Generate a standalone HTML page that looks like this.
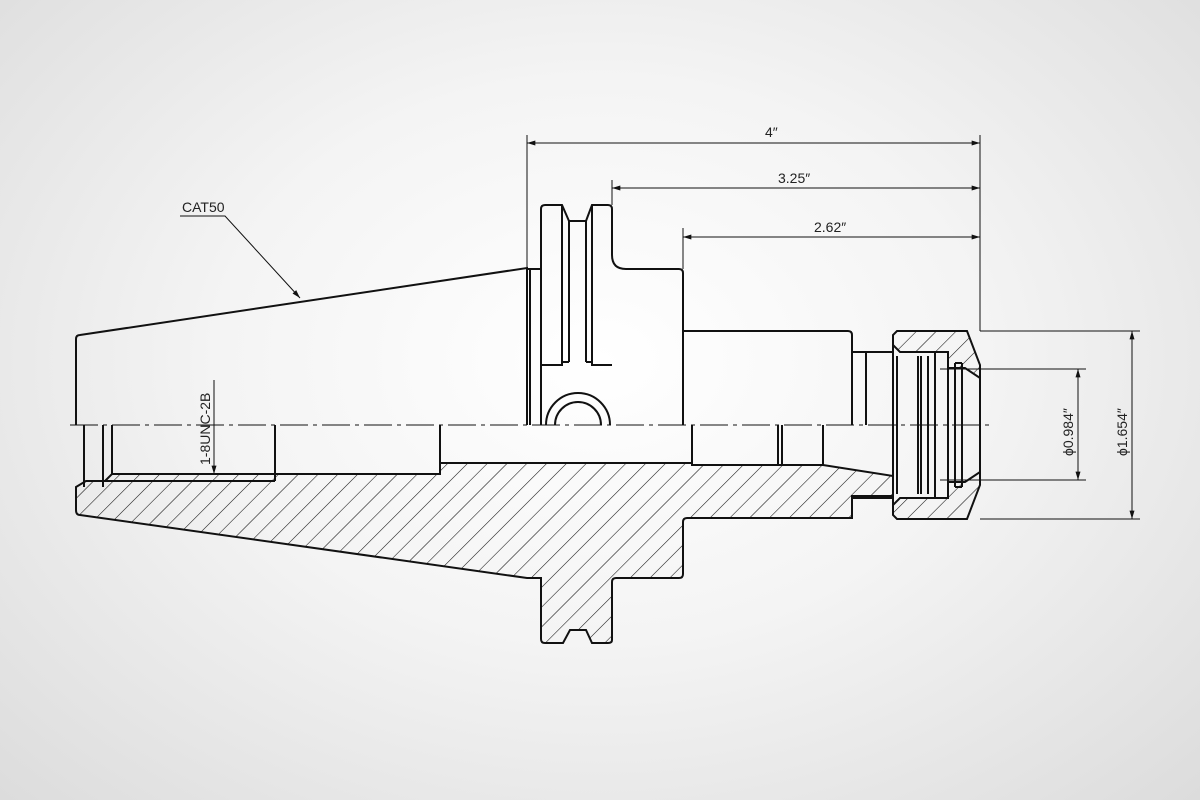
<!DOCTYPE html>
<html><head><meta charset="utf-8"><style>
html,body{margin:0;padding:0;}
body{width:1200px;height:800px;overflow:hidden;background:radial-gradient(ellipse at 50% 45%,#ffffff 0%,#f4f4f4 45%,#dcdcdc 100%);}
svg{display:block}
text{font-family:"Liberation Sans",sans-serif;font-size:14px;fill:#222}
</style></head><body>
<svg width="1200" height="800" viewBox="0 0 1200 800">
<defs>
<pattern id="h" patternUnits="userSpaceOnUse" width="14" height="14" patternTransform="rotate(45)">
<line x1="0" y1="0" x2="0" y2="14" stroke="#111" stroke-width="1.1"/>
</pattern>
<marker id="a" viewBox="0 0 10 6" refX="10" refY="3" markerWidth="9" markerHeight="5" orient="auto-start-reverse" markerUnits="userSpaceOnUse"><path d="M0,0 L10,3 L0,6z" fill="#111"/></marker>
</defs>
<g fill="none" stroke="#111">
<path fill="url(#h)" stroke="#111" stroke-width="2" d="M76,487 L86,481 L105,481 L112,474 L440,474 L440,463 L692,463 L692,465 L823,465 L893,476 L893,496 L852,496 L852,518 L687,518 Q683,518 683,522 L683,574 Q683,578 679,578 L616,578 Q612,578 612,582 L612,640 Q612,643 608,643 L592,643 L586,630 L570,630 L563,643 L545,643 Q541,643 541,639 L541,578 L527,578 L80,515 Q76,515 76,510 Z"/>
<path fill="url(#h)" stroke-width="2" d="M897,331 L967,331 L980,365 L980,378 L965,368 L948,368 L948,352 L900,352 L893,345 L893,335 Z"/>
<path fill="url(#h)" stroke-width="2" d="M897,519 L967,519 L980,485 L980,472 L965,482 L948,482 L948,498 L900,498 L893,505 L893,515 Z"/>
<g stroke-width="2">
<path d="M76,425 L76,339 Q76,335 80,335 L527,268 L527,425"/>
<path d="M530,268 L530,425 M527,269 L541,269"/>
<path d="M541,425 L541,209 Q541,205 545,205 L562,205 L569,221 L586,221 L592,205 L608,205 Q612,205 612,209 L612,255 Q612,269 626,269 L679,269 Q683,269 683,273 L683,425"/>
<path d="M562,205 L562,362 M569,221 L569,362 M586,221 L586,362 M592,205 L592,362 M541,365 L562,365 L562,362 L569,362 M586,362 L592,362 L592,365 L612,365"/>
<path d="M683,331 L848,331 Q852,331 852,335 L852,425"/>
<path d="M546,425 A32,32 0 0 1 610,425 M555,425 A23,23 0 0 1 601,425"/>
<path d="M84,425 L84,487 M103,425 L103,487 M112,425 L112,474 M275,425 L275,481 M86,481 L275,481 M440,425 L440,474"/>
<path d="M692,425 L692,463 M778,425 L778,465 M782,425 L782,465 M823,425 L823,465"/>
<path d="M852,352 L893,352 M866,352 L866,425 M852,498 L893,498"/>
<path d="M893,335 L893,515 M980,378 L980,472"/>
<path d="M897,356 L897,494 M918,356 L918,494 M921,356 L921,494 M928,356 L928,494 M935,352 L935,498 M948,352 L948,498 M955,363 L955,487 M962,363 L962,487 M955,363 L962,363 M955,487 L962,487"/>
</g>
<path stroke-width="1" stroke-dasharray="28,5,4,5" d="M70,425 L990,425"/>
<g stroke-width="1">
<path d="M527,268 L527,135 M980,331 L980,135 M612,205 L612,180 M683,269 L683,228"/>
<path d="M527,143 L980,143" marker-start="url(#a)" marker-end="url(#a)"/>
<path d="M612,188 L980,188" marker-start="url(#a)" marker-end="url(#a)"/>
<path d="M683,237 L980,237" marker-start="url(#a)" marker-end="url(#a)"/>
<path d="M980,331 L1140,331 M980,519 L1140,519 M940,369 L1086,369 M940,480 L1086,480"/>
<path d="M1132,331 L1132,519" marker-start="url(#a)" marker-end="url(#a)"/>
<path d="M1078,369 L1078,480" marker-start="url(#a)" marker-end="url(#a)"/>
<path d="M180,216 L225,216 L300,298" marker-end="url(#a)"/>
<path d="M214,380 L214,474" marker-end="url(#a)"/>
</g>
</g>
<text x="765" y="137">4″</text>
<text x="778" y="183">3.25″</text>
<text x="814" y="232">2.62″</text>
<text x="182" y="212">CAT50</text>
<text transform="translate(210,465) rotate(-90)">1-8UNC-2B</text>
<text transform="translate(1073,456) rotate(-90)">ϕ0.984″</text>
<text transform="translate(1127,456) rotate(-90)">ϕ1.654″</text>
</svg>
</body></html>
